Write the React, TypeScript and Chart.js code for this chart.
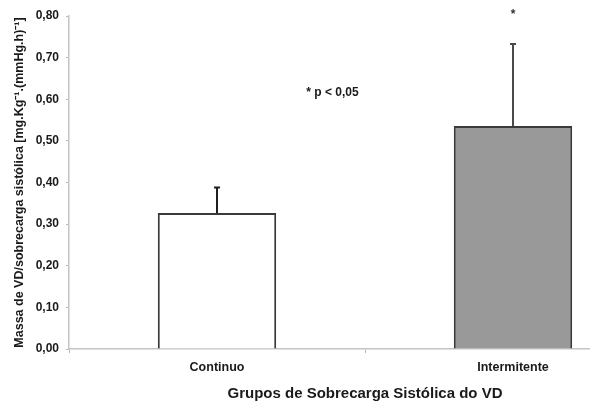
import React, { useEffect, useRef } from "react";
import { Chart, registerables } from "chart.js";

Chart.register(...registerables);

// Group means, upper error (SD) and significance markers
const categories = ["Continuo", "Intermitente"];
const means = [0.327, 0.536];
const errorsUp = [0.061, 0.197];
const sigMarks = ["", "*"];
const yTicks = [0, 0.1, 0.2, 0.3, 0.4, 0.5, 0.6, 0.7, 0.8];
const barFills = ["#ffffff", "#999999"];
const pNote = "* p < 0,05";

const FONT = "'Liberation Sans', Arial, Helvetica, sans-serif";
const fmt = (v: number) => v.toFixed(2).replace(".", ",");

const errorBarPlugin = {
  id: "errorBars",
  afterDatasetsDraw(chart: any) {
    const { ctx, scales } = chart;
    const y = scales.y;
    const x = scales.x;
    const meta = chart.getDatasetMeta(0);
    ctx.save();
    meta.data.forEach((bar: any, i: number) => {
      const top = y.getPixelForValue(means[i] + errorsUp[i]);
      ctx.strokeStyle = i === 0 ? "#1e1e1e" : "#4a4a4a";
      ctx.lineWidth = 2;
      ctx.beginPath();
      ctx.moveTo(bar.x, bar.y);
      ctx.lineTo(bar.x, top);
      ctx.moveTo(bar.x - 3, top);
      ctx.lineTo(bar.x + 3, top);
      ctx.stroke();
      if (sigMarks[i]) {
        ctx.fillStyle = "#333333";
        ctx.font = `bold 12px ${FONT}`;
        ctx.textAlign = "center";
        ctx.textBaseline = "middle";
        ctx.fillText(sigMarks[i], bar.x, y.getPixelForValue(0.803));
      }
    });
    // significance note
    ctx.fillStyle = "#1a1a1a";
    ctx.font = `bold 12px ${FONT}`;
    ctx.textAlign = "center";
    ctx.textBaseline = "middle";
    ctx.fillText(pNote, x.getPixelForValue(0.39), y.getPixelForValue(0.615));
    ctx.restore();
  },
};

export default function App() {
  const canvasRef = useRef<HTMLCanvasElement | null>(null);

  useEffect(() => {
    document.body.style.margin = "0";
    const canvas = canvasRef.current;
    if (!canvas) return;
    const chart = new Chart(canvas, {
      type: "bar",
      data: {
        labels: categories,
        datasets: [
          {
            data: means,
            backgroundColor: barFills,
            borderColor: "#3a3a3a",
            borderWidth: 2,
            barPercentage: 0.4,
            categoryPercentage: 1,
          },
        ],
      },
      options: {
        responsive: false,
        animation: false,
        devicePixelRatio: 1,
        layout: { padding: { top: 16, right: 3, left: 0, bottom: 0 } },
        plugins: {
          legend: { display: false },
          tooltip: { enabled: false },
        },
        scales: {
          x: {
            grid: {
              offset: true,
              drawOnChartArea: false,
              drawTicks: true,
              tickLength: 4,
              color: "#b8b8b8",
              lineWidth: 1,
            },
            border: { color: "#c4c4c4", width: 1.5 },
            ticks: {
              color: "#1a1a1a",
              padding: 7,
              font: { family: FONT, size: 12.5, weight: "bold" },
            },
            title: {
              display: true,
              text: "Grupos de Sobrecarga Sistólica do VD",
              color: "#1a1a1a",
              font: { family: FONT, size: 15, weight: "bold" },
              padding: { top: 0, bottom: 0 },
            },
            afterFit(scale: any) {
              scale.height = 54;
            },
          },
          y: {
            min: 0,
            max: 0.8,
            afterBuildTicks(scale: any) {
              scale.ticks = yTicks.map((v) => ({ value: v }));
            },
            grid: {
              drawOnChartArea: false,
              drawTicks: true,
              tickLength: 3,
              color: "#b8b8b8",
            },
            border: { color: "#c4c4c4", width: 1.5 },
            ticks: {
              color: "#1a1a1a",
              padding: 7,
              font: { family: FONT, size: 12, weight: "bold" },
              callback: (v: any) => fmt(Number(v)),
            },
            title: {
              display: true,
              text: "Massa de VD/sobrecarga sistólica [mg.Kg⁻¹.(mmHg.h)⁻¹]",
              color: "#1a1a1a",
              font: { family: FONT, size: 12.5, weight: "bold" },
              padding: { top: 12, bottom: 0 },
            },
            afterFit(scale: any) {
              scale.width = 69;
            },
          },
        },
      },
      plugins: [errorBarPlugin],
    });
    return () => chart.destroy();
  }, []);

  return (
    <div
      style={{
        position: "fixed",
        left: 0,
        top: 0,
        width: 590,
        height: 403,
        overflow: "hidden",
        background: "#ffffff",
      }}
    >
      <canvas ref={canvasRef} width={664} height={403} style={{ display: "block" }} />
    </div>
  );
}
